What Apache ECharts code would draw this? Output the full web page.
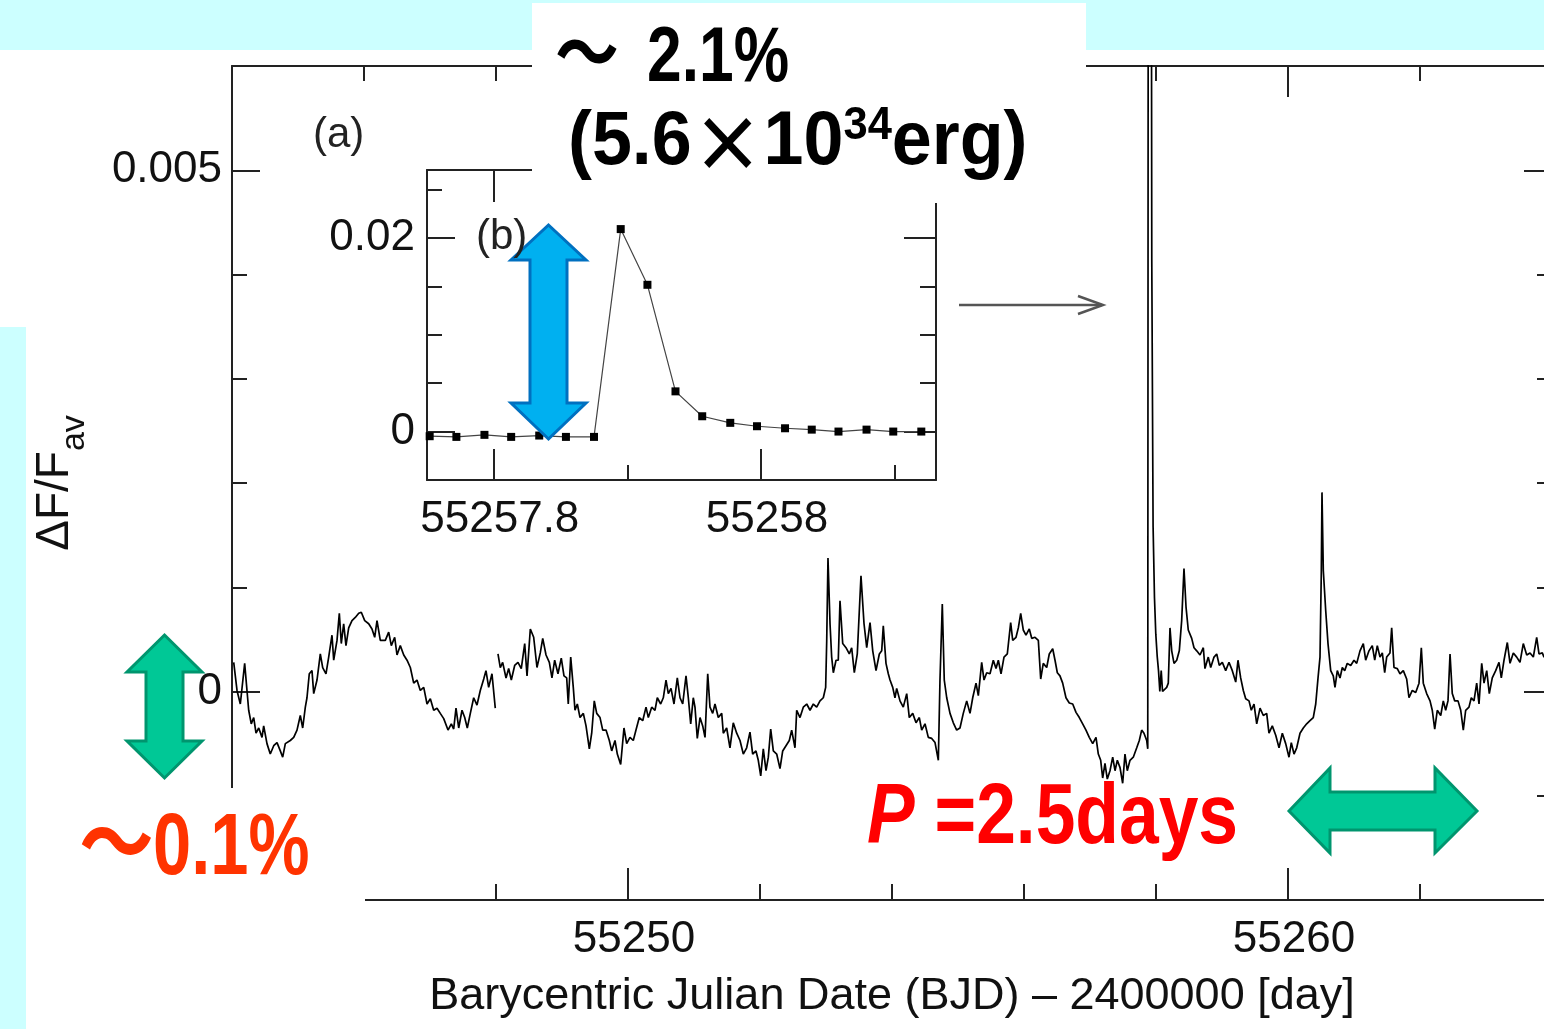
<!DOCTYPE html>
<html lang="en">
<head>
<meta charset="UTF-8">
<title>Light curve</title>
<script src="https://cdn.jsdelivr.net/npm/echarts@6/dist/echarts.min.js"></script>
<style type="text/css">
    body { margin: 0; background: #fff; }
    #box { width: 1544px; height: 1029px; }
</style>
</head>
<body>
<div id="box"></div>
<script>
// main light curve (BJD - 2400000, dF/Fav)
var bjd = [
    55244.026, 55244.076, 55244.126, 55244.192, 55244.227, 55244.253, 55244.292, 55244.329, 55244.364, 55244.405,
    55244.455, 55244.480, 55244.530, 55244.580, 55244.632, 55244.682, 55244.732, 55244.768, 55244.808, 55244.883,
    55244.935, 55244.985, 55245.035, 55245.071, 55245.111, 55245.136, 55245.171, 55245.212, 55245.238, 55245.288,
    55245.338, 55245.374, 55245.424, 55245.465, 55245.515, 55245.541, 55245.591, 55245.626, 55245.656, 55245.692,
    55245.727, 55245.768, 55245.818, 55245.868, 55245.920, 55245.959, 55246.011, 55246.071, 55246.121, 55246.162,
    55246.197, 55246.247, 55246.323, 55246.374, 55246.414, 55246.465, 55246.500, 55246.550, 55246.602, 55246.652,
    55246.702, 55246.753, 55246.803, 55246.853, 55246.905, 55246.955, 55247.005, 55247.056, 55247.106, 55247.156,
    55247.208, 55247.273, 55247.323, 55247.359, 55247.394, 55247.435, 55247.485, 55247.526, 55247.565, 55247.611,
    55247.662, 55247.712, 55247.762, 55247.814, 55247.848, 55247.889, 55247.939, 55247.989, 55248.010, 55248.030,
    55248.065, 55248.101, 55248.152, 55248.192, 55248.232, 55248.283, 55248.333, 55248.383, 55248.435, 55248.470,
    55248.520, 55248.571, 55248.621, 55248.671, 55248.708, 55248.758, 55248.808, 55248.848, 55248.889, 55248.939,
    55248.989, 55249.030, 55249.071, 55249.095, 55249.132, 55249.171, 55249.197, 55249.232, 55249.273, 55249.323,
    55249.364, 55249.414, 55249.450, 55249.489, 55249.526, 55249.576, 55249.617, 55249.667, 55249.717, 55249.753,
    55249.803, 55249.838, 55249.889, 55249.939, 55249.980, 55250.030, 55250.080, 55250.121, 55250.171, 55250.223,
    55250.273, 55250.308, 55250.359, 55250.409, 55250.444, 55250.495, 55250.535, 55250.576, 55250.611, 55250.652,
    55250.697, 55250.747, 55250.788, 55250.829, 55250.879, 55250.914, 55250.950, 55250.989, 55251.015, 55251.050,
    55251.091, 55251.132, 55251.167, 55251.208, 55251.242, 55251.283, 55251.318, 55251.368, 55251.420, 55251.444,
    55251.495, 55251.545, 55251.595, 55251.647, 55251.697, 55251.747, 55251.798, 55251.848, 55251.889, 55251.939,
    55251.974, 55252.011, 55252.050, 55252.091, 55252.126, 55252.162, 55252.202, 55252.253, 55252.303, 55252.344,
    55252.394, 55252.444, 55252.480, 55252.530, 55252.556, 55252.606, 55252.656, 55252.708, 55252.758, 55252.808,
    55252.859, 55252.909, 55252.959, 55252.995, 55253.011, 55253.030, 55253.061, 55253.086, 55253.111, 55253.152,
    55253.186, 55253.212, 55253.253, 55253.303, 55253.353, 55253.389, 55253.429, 55253.474, 55253.530, 55253.576,
    55253.617, 55253.667, 55253.708, 55253.758, 55253.808, 55253.844, 55253.868, 55253.909, 55253.944, 55253.970,
    55254.011, 55254.045, 55254.071, 55254.121, 55254.171, 55254.223, 55254.262, 55254.314, 55254.364, 55254.414,
    55254.450, 55254.500, 55254.550, 55254.602, 55254.652, 55254.702, 55254.727, 55254.762, 55254.792, 55254.829,
    55254.879, 55254.929, 55254.980, 55255.030, 55255.080, 55255.132, 55255.182, 55255.223, 55255.273, 55255.308,
    55255.359, 55255.394, 55255.435, 55255.485, 55255.535, 55255.576, 55255.611, 55255.652, 55255.697, 55255.747,
    55255.798, 55255.829, 55255.879, 55255.914, 55255.950, 55255.989, 55256.030, 55256.080, 55256.117, 55256.167,
    55256.217, 55256.253, 55256.292, 55256.344, 55256.383, 55256.435, 55256.470, 55256.505, 55256.545, 55256.586,
    55256.636, 55256.686, 55256.738, 55256.788, 55256.838, 55256.889, 55256.939, 55256.989, 55257.041, 55257.091,
    55257.126, 55257.162, 55257.192, 55257.227, 55257.262, 55257.303, 55257.344, 55257.379, 55257.414, 55257.455,
    55257.495, 55257.530, 55257.565, 55257.606, 55257.656, 55257.708, 55257.747, 55257.783, 55257.818, 55257.859,
    55257.875, 55257.895, 55257.915, 55257.936, 55257.956, 55257.977, 55257.997, 55258.018, 55258.038, 55258.058,
    55258.079, 55258.099, 55258.120, 55258.162, 55258.186, 55258.212, 55258.238, 55258.273, 55258.314, 55258.353,
    55258.389, 55258.424, 55258.455, 55258.489, 55258.541, 55258.576, 55258.617, 55258.667, 55258.717, 55258.742,
    55258.792, 55258.829, 55258.879, 55258.920, 55258.959, 55259.005, 55259.056, 55259.106, 55259.156, 55259.208,
    55259.242, 55259.283, 55259.323, 55259.359, 55259.409, 55259.444, 55259.485, 55259.526, 55259.576, 55259.626,
    55259.677, 55259.712, 55259.762, 55259.814, 55259.864, 55259.914, 55259.965, 55260.015, 55260.050, 55260.091,
    55260.132, 55260.182, 55260.232, 55260.283, 55260.333, 55260.383, 55260.420, 55260.455, 55260.485, 55260.505,
    55260.515, 55260.535, 55260.571, 55260.606, 55260.647, 55260.686, 55260.712, 55260.747, 55260.788, 55260.823,
    55260.859, 55260.898, 55260.950, 55261.000, 55261.041, 55261.091, 55261.141, 55261.177, 55261.227, 55261.277,
    55261.314, 55261.353, 55261.394, 55261.429, 55261.465, 55261.495, 55261.545, 55261.571, 55261.606, 55261.656,
    55261.697, 55261.747, 55261.798, 55261.833, 55261.883, 55261.935, 55261.985, 55262.020, 55262.050, 55262.101,
    55262.152, 55262.186, 55262.223, 55262.262, 55262.314, 55262.353, 55262.389, 55262.424, 55262.455, 55262.489,
    55262.526, 55262.576, 55262.617, 55262.656, 55262.692, 55262.742, 55262.777, 55262.818, 55262.859, 55262.894,
    55262.935, 55262.970, 55263.011, 55263.050, 55263.095, 55263.147, 55263.197, 55263.232, 55263.273, 55263.323,
    55263.364, 55263.414, 55263.465, 55263.515, 55263.565, 55263.617, 55263.667, 55263.717, 55263.768, 55263.803,
    55263.853, 55263.879, 55263.939, 55263.985
];
var dflux = [
    0.00028, 0.00001, -0.00012, 0.00027, 0.00001, -0.00018, -0.00031, -0.00025, -0.00040, -0.00035,
    -0.00044, -0.00033, -0.00050, -0.00060, -0.00052, -0.00049, -0.00057, -0.00063, -0.00050, -0.00047,
    -0.00044, -0.00037, -0.00023, -0.00035, -0.00015, -0.00006, 0.00017, 0.00020, -0.00002, 0.00011,
    0.00036, 0.00023, 0.00017, 0.00033, 0.00054, 0.00030, 0.00049, 0.00075, 0.00046, 0.00065,
    0.00044, 0.00061, 0.00068, 0.00071, 0.00075, 0.00076, 0.00068, 0.00065, 0.00060, 0.00052,
    0.00068, 0.00049, 0.00049, 0.00057, 0.00044, 0.00052, 0.00035, 0.00044, 0.00035, 0.00030,
    0.00023, 0.00008, 0.00011, 0.00001, 0.00004, -0.00012, -0.00007, -0.00018, -0.00016, -0.00021,
    -0.00026, -0.00037, -0.00031, -0.00036, -0.00016, -0.00035, -0.00018, -0.00025, -0.00035, -0.00021,
    -0.00006, -0.00013, 0.00001, 0.00012, 0.00020, 0.00004, 0.00017, -0.00016, null, 0.00036,
    0.00023, 0.00028, 0.00013, 0.00022, 0.00011, 0.00025, 0.00028, 0.00022, 0.00046, 0.00015,
    0.00060, 0.00052, 0.00023, 0.00037, 0.00051, 0.00035, 0.00028, 0.00013, 0.00030, 0.00017,
    0.00032, 0.00015, 0.00013, -0.00012, 0.00033, 0.00004, -0.00018, -0.00012, -0.00025, -0.00021,
    -0.00033, -0.00055, -0.00040, -0.00009, -0.00021, -0.00025, -0.00037, -0.00037, -0.00047, -0.00057,
    -0.00047, -0.00060, -0.00070, -0.00035, -0.00050, -0.00044, -0.00047, -0.00037, -0.00025, -0.00028,
    -0.00015, -0.00025, -0.00015, -0.00018, -0.00006, -0.00012, -0.00006, 0.00011, -0.00002, 0.00003,
    -0.00012, 0.00013, -0.00006, -0.00012, 0.00015, -0.00006, -0.00031, -0.00006, -0.00015, -0.00045,
    -0.00025, -0.00033, -0.00044, 0.00017, -0.00015, -0.00021, -0.00012, -0.00025, -0.00021, -0.00040,
    -0.00035, -0.00054, -0.00030, -0.00040, -0.00047, -0.00060, -0.00054, -0.00039, -0.00060, -0.00057,
    -0.00066, -0.00081, -0.00055, -0.00076, -0.00063, -0.00036, -0.00057, -0.00060, -0.00074, -0.00057,
    -0.00052, -0.00047, -0.00037, -0.00054, -0.00018, -0.00025, -0.00015, -0.00012, -0.00018, -0.00012,
    -0.00015, -0.00009, -0.00006, 0.00004, 0.00049, 0.00128, 0.00065, 0.00033, 0.00018, 0.00030,
    0.00030, 0.00087, 0.00046, 0.00042, 0.00036, 0.00042, 0.00018, 0.00036, 0.00111, 0.00065,
    0.00042, 0.00066, 0.00039, 0.00020, 0.00036, 0.00039, 0.00063, 0.00027, 0.00017, 0.00011,
    0.00004, -0.00006, 0.00003, -0.00009, -0.00015, -0.00002, -0.00025, -0.00021, -0.00030, -0.00025,
    -0.00037, -0.00031, -0.00044, -0.00045, -0.00049, -0.00066, 0.00011, 0.00084, 0.00011, -0.00006,
    -0.00021, -0.00030, -0.00037, -0.00035, -0.00021, -0.00009, -0.00021, -0.00006, 0.00008, -0.00004,
    0.00028, 0.00011, 0.00018, 0.00017, 0.00030, 0.00022, 0.00030, 0.00017, 0.00033, 0.00036,
    0.00066, 0.00049, 0.00052, 0.00061, 0.00075, 0.00059, 0.00054, 0.00060, 0.00051, 0.00052,
    0.00049, 0.00012, 0.00027, 0.00023, 0.00036, 0.00041, 0.00030, 0.00018, 0.00015, 0.00008,
    -0.00006, -0.00011, -0.00012, -0.00020, -0.00025, -0.00031, -0.00037, -0.00044, -0.00050, -0.00044,
    -0.00060, -0.00066, -0.00083, -0.00069, -0.00084, -0.00076, -0.00063, -0.00076, -0.00066, -0.00073,
    -0.00088, -0.00060, -0.00076, -0.00066, -0.00063, -0.00054, -0.00047, -0.00037, -0.00040, -0.00047,
    -0.00055, 0.02090, 0.01515, 0.00415, 0.00158, 0.00090, 0.00055, 0.00034, 0.00020, 0.00000,
    0.00020, 0.00000, 0.00000, 0.00004, 0.00008, 0.00061, 0.00039, 0.00027, 0.00030, 0.00039,
    0.00068, 0.00118, 0.00081, 0.00059, 0.00051, 0.00042, 0.00039, 0.00035, 0.00042, 0.00022,
    0.00033, 0.00023, 0.00033, 0.00036, 0.00025, 0.00028, 0.00020, 0.00028, 0.00020, 0.00009,
    0.00030, 0.00013, 0.00001, -0.00007, -0.00009, -0.00018, -0.00012, -0.00031, -0.00016, -0.00023,
    -0.00021, -0.00040, -0.00033, -0.00042, -0.00054, -0.00040, -0.00050, -0.00063, -0.00049, -0.00060,
    -0.00054, -0.00040, -0.00035, -0.00031, -0.00028, -0.00025, -0.00012, 0.00013, 0.00033, 0.00116,
    0.00191, 0.00116, 0.00078, 0.00046, 0.00020, 0.00015, 0.00004, 0.00020, 0.00013, 0.00023,
    0.00020, 0.00027, 0.00025, 0.00030, 0.00027, 0.00039, 0.00046, 0.00030, 0.00039, 0.00044,
    0.00030, 0.00044, 0.00033, 0.00037, 0.00018, 0.00033, 0.00037, 0.00061, 0.00023, 0.00022,
    0.00017, 0.00020, 0.00012, -0.00006, 0.00001, -0.00001, 0.00008, 0.00042, 0.00008, -0.00002,
    -0.00009, -0.00018, -0.00036, -0.00018, -0.00023, -0.00009, -0.00018, -0.00009, 0.00036, -0.00002,
    -0.00009, -0.00009, -0.00018, -0.00037, -0.00018, -0.00015, -0.00006, -0.00009, 0.00008, -0.00012,
    0.00027, 0.00008, 0.00020, -0.00002, 0.00013, 0.00020, 0.00028, 0.00013, 0.00030, 0.00047,
    0.00027, 0.00037, 0.00033, 0.00028, 0.00046, 0.00035, 0.00037, 0.00033, 0.00052, 0.00036,
    0.00037, 0.00033, 0.00039, 0.00035
];

// inset (b): the big flare, one point per long cadence
var insetBjd = [55257.752, 55257.772, 55257.793, 55257.813, 55257.834, 55257.854, 55257.875, 55257.895, 55257.915, 55257.936,
                55257.956, 55257.977, 55257.997, 55258.018, 55258.038, 55258.058, 55258.079, 55258.099, 55258.120];
var insetFlux = [-0.00048, -0.00055, -0.00034, -0.00055, -0.00041, -0.00055, -0.00055, 0.0209, 0.01515, 0.00415,
                 0.00158, 0.0009, 0.00055, 0.00034, 0.0002, 0.0, 0.0002, 0.0, 0.0];

// tick positions
var mainXLabels = [55250, 55260];
var mainYLabels = [0, 0.005];
var insetXLabels = [55257.8, 55258];
var insetXMinor = [55257.9, 55258.1];
var insetYLabels = [0, 0.02];

var FONT = 'Liberation Sans';
var INK = '#222';

var mychart = echarts.init(document.getElementById('box'));

var lc = bjd.map(function (t, i) { return [t, dflux[i]]; });
var fl = insetBjd.map(function (t, i) { return [t, insetFlux[i]]; });

function fmt(v) { return String(+(+v).toFixed(4)); }

// one axis that only draws a line and/or ticks
function ax(grid, pos, min, max, o) {
    var a = {
        type: 'value', gridIndex: grid, position: pos, min: min, max: max,
        axisLine: { show: o.line !== false, onZero: false, lineStyle: { color: INK, width: 2 } },
        axisTick: { show: true, inside: true, length: o.len || 15, lineStyle: { color: INK, width: 2 } },
        axisLabel: { show: false },
        splitLine: { show: false }
    };
    if (o.interval) a.interval = o.interval;
    if (o.ticks) a.axisTick.customValues = o.ticks;
    if (o.labels) {
        a.axisLabel = {
            show: true, customValues: o.labels, formatter: fmt,
            fontFamily: FONT, fontSize: 44, color: '#111',
            margin: o.margin, padding: o.pad || 0
        };
    }
    return a;
}

var xAxes = [
    ax(0, 'bottom', 55244, 55264, { interval: 2, len: 16 }),
    ax(0, 'bottom', 55244, 55264, { line: false, ticks: mainXLabels, len: 32, labels: mainXLabels, margin: 18, pad: [0, 0, 0, 12] }),
    ax(0, 'top', 55244, 55264, { interval: 2, len: 15 }),
    ax(0, 'top', 55244, 55264, { line: false, ticks: mainXLabels, len: 31 }),
    ax(1, 'bottom', 55257.75, 55258.131, { ticks: insetXMinor, len: 15 }),
    ax(1, 'bottom', 55257.75, 55258.131, { line: false, ticks: insetXLabels, len: 31, labels: insetXLabels, margin: 18, pad: [0, 0, 0, 12] }),
    ax(1, 'top', 55257.75, 55258.131, { ticks: insetXMinor, len: 15 }),
    ax(1, 'top', 55257.75, 55258.131, { line: false, ticks: insetXLabels, len: 32 })
];
xAxes[0].name = 'Barycentric Julian Date (BJD) \u2013 2400000 [day]';
xAxes[0].nameLocation = 'middle';
xAxes[0].nameGap = 74;
xAxes[0].nameMoveOverlap = false;
xAxes[0].nameTextStyle = { fontFamily: FONT, fontSize: 45, color: '#111' };

var yAxes = [
    ax(0, 'left', -0.002, 0.006, { interval: 0.001, len: 15 }),
    ax(0, 'left', -0.002, 0.006, { line: false, ticks: mainYLabels, len: 28, labels: mainYLabels, margin: 10 }),
    ax(0, 'right', -0.002, 0.006, { interval: 0.001, len: 15 }),
    ax(0, 'right', -0.002, 0.006, { line: false, ticks: mainYLabels, len: 28 }),
    ax(1, 'left', -0.005, 0.027, { interval: 0.005, len: 15 }),
    ax(1, 'left', -0.005, 0.027, { line: false, ticks: insetYLabels, len: 28, labels: insetYLabels, margin: 12 }),
    ax(1, 'right', -0.005, 0.027, { interval: 0.005, len: 16 }),
    ax(1, 'right', -0.005, 0.027, { line: false, ticks: insetYLabels, len: 32 })
];

var bigFont = '"Liberation Sans", "Noto Sans CJK JP"';

mychart.setOption({
    animation: false,
    backgroundColor: '#fff',
    textStyle: { fontFamily: FONT },
    grid: [
        { left: 232, top: 66, width: 1320, height: 834, containLabel: false, outerBoundsMode: 'none' },
        { left: 427, top: 170, width: 509, height: 310, containLabel: false, outerBoundsMode: 'none' }
    ],
    xAxis: xAxes,
    yAxis: yAxes,
    series: [
        {
            type: 'line', xAxisIndex: 0, yAxisIndex: 0, data: lc,
            showSymbol: false, symbol: 'none', connectNulls: false, clip: true,
            lineStyle: { color: '#000', width: 1.7 }
        },
        {
            type: 'line', xAxisIndex: 4, yAxisIndex: 4, data: fl,
            symbol: 'rect', symbolSize: 8, clip: true,
            itemStyle: { color: '#000' },
            lineStyle: { color: '#444', width: 1.2 }
        }
    ],
    graphic: { elements: [
        // slide background strips
        { type: 'rect', z: 100, shape: { x: 0, y: 0, width: 1544, height: 50 }, style: { fill: '#ccffff' } },
        { type: 'rect', z: 100, shape: { x: 0, y: 327, width: 26, height: 702 }, style: { fill: '#ccffff' } },
        // white boxes laid over the figure
        { type: 'rect', z: 101, shape: { x: 532, y: 3, width: 554, height: 200 }, style: { fill: '#fff' } },
        { type: 'rect', z: 101, shape: { x: 26, y: 788, width: 339, height: 241 }, style: { fill: '#fff' } },
        // y axis title, subscript pushed down by a taller line box
        {
            type: 'text', z: 110, x: 75, y: 483, rotation: Math.PI / 2,
            style: {
                text: '{m|\u0394F/F}{s|av}', align: 'center', verticalAlign: 'middle',
                rich: {
                    m: { fontFamily: FONT, fontSize: 46, lineHeight: 44, verticalAlign: 'top', fill: '#111' },
                    s: { fontFamily: FONT, fontSize: 34, lineHeight: 86, fill: '#111' }
                }
            }
        },
        { type: 'text', z: 110, x: 313, y: 135, style: { text: '(a)', fontFamily: FONT, fontSize: 42, fill: '#222', verticalAlign: 'middle' } },
        { type: 'text', z: 110, x: 476, y: 237, style: { text: '(b)', fontFamily: FONT, fontSize: 42, fill: '#222', verticalAlign: 'middle' } },
        // grey arrow pointing at the flare
        { type: 'line', z: 110, shape: { x1: 959, y1: 305, x2: 1102, y2: 305 }, style: { stroke: '#555', lineWidth: 2.5 } },
        { type: 'polyline', z: 110, shape: { points: [[1078, 296], [1103, 305], [1078, 314]] }, style: { stroke: '#555', lineWidth: 2.5, fill: null } },
        // blue double arrow (flare amplitude)
        {
            type: 'polygon', z: 108,
            shape: { points: [[548.5, 225], [586, 260], [567, 260], [567, 403], [586, 403], [548.5, 439], [511, 403], [530, 403], [530, 260], [511, 260]] },
            style: { fill: '#00b0f0', stroke: '#0070c0', lineWidth: 3 }
        },
        // green vertical double arrow (modulation amplitude)
        {
            type: 'polygon', z: 108,
            shape: { points: [[164.5, 635], [202, 672], [183, 672], [183, 741], [202, 741], [164.5, 778], [127, 741], [146, 741], [146, 672], [127, 672]] },
            style: { fill: '#00c896', stroke: '#00956e', lineWidth: 3 }
        },
        // green horizontal double arrow (period)
        {
            type: 'polygon', z: 108,
            shape: { points: [[1289, 811], [1330, 768], [1330, 792], [1435, 792], [1435, 768], [1477, 811], [1435, 853], [1435, 830], [1330, 830], [1330, 853]] },
            style: { fill: '#00c896', stroke: '#00956e', lineWidth: 3 }
        },
        // annotations
        {
            type: 'text', z: 112, x: 555, y: 60, scaleX: 0.83,
            style: { text: '\uff5e', fontFamily: bigFont, fontWeight: 'bold', fontSize: 77, fill: '#000', verticalAlign: 'middle' }
        },
        {
            type: 'text', z: 112, x: 647, y: 60, scaleX: 0.81,
            style: { text: '2.1%', fontFamily: FONT, fontWeight: 'bold', fontSize: 77, fill: '#000', verticalAlign: 'middle' }
        },
        {
            type: 'text', z: 112, x: 568, y: 143, scaleX: 0.945,
            style: {
                text: '{a|(5.6}{x|\u00d7}{a|10}{p|34}{a|erg)}', verticalAlign: 'middle', fill: '#000',
                rich: {
                    a: { fontFamily: FONT, fontWeight: 'bold', fontSize: 76, lineHeight: 80, fill: '#000' },
                    x: { fontFamily: '"Noto Sans CJK JP"', fontWeight: 'bold', fontSize: 76, lineHeight: 80, fill: '#000' },
                    p: { fontFamily: FONT, fontWeight: 'bold', fontSize: 46, lineHeight: 46, verticalAlign: 'top', fill: '#000' }
                }
            }
        },
        {
            type: 'text', z: 112, x: 79, y: 850, scaleX: 0.85,
            style: { text: '\uff5e', fontFamily: bigFont, fontWeight: 'bold', fontSize: 88, fill: '#ff3300', verticalAlign: 'middle' }
        },
        {
            type: 'text', z: 112, x: 153, y: 850, scaleX: 0.78,
            style: { text: '0.1%', fontFamily: FONT, fontWeight: 'bold', fontSize: 88, fill: '#ff3300', verticalAlign: 'middle' }
        },
        {
            type: 'text', z: 112, x: 867, y: 819, scaleX: 0.83,
            style: {
                text: '{p|P}{n| =2.5days}', verticalAlign: 'middle',
                rich: {
                    p: { fontFamily: FONT, fontWeight: 'bold', fontStyle: 'italic', fontSize: 86, fill: '#ff0000' },
                    n: { fontFamily: FONT, fontWeight: 'bold', fontSize: 86, fill: '#ff0000' }
                }
            }
        }
    ] }
});
</script>
</body>
</html>
